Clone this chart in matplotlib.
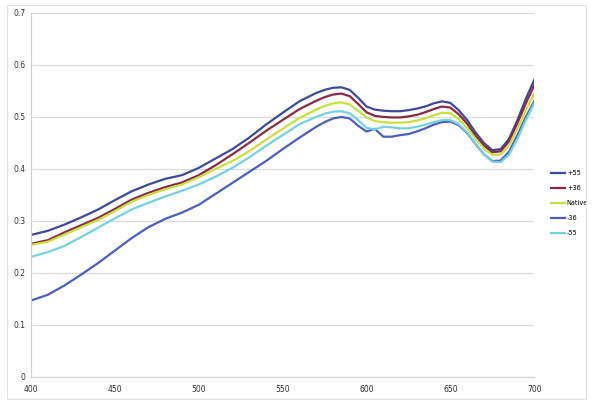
import matplotlib
matplotlib.use('Agg')
import matplotlib.pyplot as plt
from matplotlib.patches import Rectangle

# wavelength (nm) and reflectance for each treatment
wavelength = [400, 410, 420, 430, 440, 450, 460, 470, 480, 490, 500, 510, 520, 530, 540, 550, 560,
              570, 575, 580, 585, 590, 595, 600, 605, 610, 615, 620, 625, 630, 635, 640, 645, 650,
              655, 660, 665, 670, 675, 680, 685, 690, 695, 700]

plus55 = [.273, .281, .293, .307, .322, .340, .357, .370, .381, .388, .402, .420, .438, .460, .485, .508, .530,
          .546, .552, .556, .557, .552, .537, .520, .514, .512, .511, .511, .513, .516, .520, .526, .530, .527,
          .513, .494, .470, .450, .436, .438, .458, .494, .535, .571]
plus36 = [.256, .263, .278, .292, .306, .323, .341, .354, .365, .374, .388, .407, .428, .450, .473, .494, .515,
          .531, .538, .543, .545, .540, .525, .509, .502, .500, .499, .499, .501, .504, .509, .515, .520, .518,
          .505, .487, .464, .445, .432, .434, .453, .488, .526, .561]
native = [.254, .260, .274, .288, .302, .319, .337, .350, .361, .370, .384, .400, .415, .434, .456, .477, .498,
          .514, .521, .526, .528, .524, .512, .499, .492, .490, .489, .489, .490, .493, .497, .503, .508, .507,
          .496, .479, .458, .439, .427, .428, .445, .478, .513, .545]
minus36 = [.147, .158, .176, .197, .219, .243, .267, .288, .304, .316, .331, .352, .373, .394, .415, .438, .460,
           .481, .490, .497, .500, .497, .483, .472, .477, .462, .462, .465, .467, .472, .478, .485, .490, .491,
           .484, .469, .448, .428, .415, .416, .433, .465, .500, .530]
minus55 = [.231, .240, .252, .269, .287, .305, .322, .335, .347, .358, .370, .385, .402, .422, .444, .465, .486,
           .500, .506, .510, .511, .507, .494, .479, .476, .481, .480, .478, .478, .481, .485, .490, .494, .494,
           .486, .470, .449, .428, .414, .413, .428, .458, .494, .526]

series = [
    ("+55", plus55, "#3c4a9c"),
    ("+36", plus36, "#8a2a45"),
    ("Native", native, "#c6e03c"),
    ("-36", minus36, "#4a5fc2"),
    ("-55", minus55, "#74d2df"),
]

fig = plt.figure(figsize=(5.92, 4.04), dpi=100)
ax = fig.add_axes([0.0524, 0.067, 0.85, 0.901])

for label, vals, color in series:
    ax.plot(wavelength, vals, color=color, linewidth=1.6, label=label)

ax.set_xlim(400, 700)
ax.set_ylim(0, 0.7)
ax.set_xticks([400, 450, 500, 550, 600, 650, 700])
ax.set_yticks([0, 0.1, 0.2, 0.3, 0.4, 0.5, 0.6, 0.7])
ax.set_yticklabels(["0", "0.1", "0.2", "0.3", "0.4", "0.5", "0.6", "0.7"])
ax.grid(axis='y', color='#dcdcdc', linewidth=0.9)
ax.set_axisbelow(True)
for side in ['top', 'right']:
    ax.spines[side].set_visible(False)
for side in ['left', 'bottom']:
    ax.spines[side].set_color('#d0d0d0')
ax.tick_params(axis='y', length=0, labelsize=5.5, colors='#333333', pad=4)
ax.tick_params(axis='x', length=0, labelsize=5.5, colors='#333333', pad=6)

leg = ax.legend(loc='center left', bbox_to_anchor=(0.921, 0.497), bbox_transform=fig.transFigure,
                frameon=False, fontsize=4.7, handlelength=2.1, handletextpad=0.3, labelspacing=1.4)

# light border around the whole chart
fig.patches.append(Rectangle((0.012, 0.012), 0.978, 0.976, transform=fig.transFigure,
                             fill=False, edgecolor='#e2e2e2', linewidth=0.8))

fig.savefig('out.png', dpi=100)
